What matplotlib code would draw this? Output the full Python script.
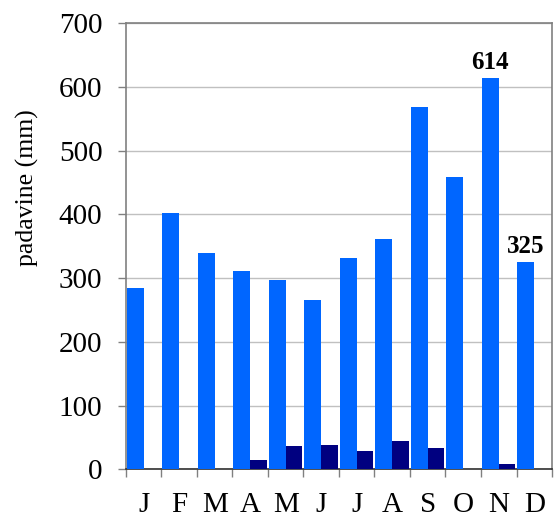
import numpy as np
import matplotlib
matplotlib.use('Agg')
import matplotlib.pyplot as plt

months = ['J', 'F', 'M', 'A', 'M', 'J', 'J', 'A', 'S', 'O', 'N', 'D']
rain_total = [285, 403, 340, 311, 297, 266, 331, 361, 568, 459, 614, 325]
rain_second = [0, 0, 0, 15, 37, 38, 29, 45, 34, 0, 9, 0]
labelled = {10: 614, 11: 325}


def main():
    plt.rcParams['font.family'] = ['Liberation Serif', 'DejaVu Serif']
    fig = plt.figure(figsize=(5.55, 5.12), dpi=100)
    ax = fig.add_axes([0.227, 0.0834, 0.7676, 0.871])

    x = np.arange(len(months))
    ax.bar(x - 0.24, rain_total, width=0.48, color='#0066ff', zorder=3)
    ax.bar(x + 0.235, rain_second, width=0.47, color='#000080', zorder=3)

    for i, v in labelled.items():
        ax.text(x[i] - 0.24, v + 14, str(v), ha='center', va='baseline',
                fontsize=18, fontweight='bold', zorder=4)

    ax.set_xlim(-0.5, 11.5)
    ax.set_ylim(0, 700)
    ax.set_yticks(np.arange(0, 701, 100))
    ax.yaxis.grid(True, color='#c0c0c0', linewidth=1.0, zorder=0)
    ax.set_axisbelow(True)

    ax.set_xticks(np.arange(-0.5, 12, 1.0))
    ax.set_xticklabels([])
    ax.set_xticks(x, minor=True)
    ax.set_xticklabels(months, minor=True)
    ax.tick_params(axis='x', which='major', length=6, width=1, color='#808080')
    ax.tick_params(axis='x', which='minor', length=0, pad=16, labelsize=21)
    ax.tick_params(axis='y', length=6, width=1, color='#808080', pad=11,
                   labelsize=21)

    for side in ['top', 'right', 'left']:
        ax.spines[side].set_color('#808080')
        ax.spines[side].set_linewidth(1.2)
    ax.spines['bottom'].set_color('#303030')
    ax.spines['bottom'].set_linewidth(1.2)

    ax.set_ylabel('padavine (mm)', fontsize=18.5)
    ax.yaxis.set_label_coords(-0.205, 0.632)

    fig.savefig('out.png', dpi=100)


if __name__ == '__main__':
    main()
